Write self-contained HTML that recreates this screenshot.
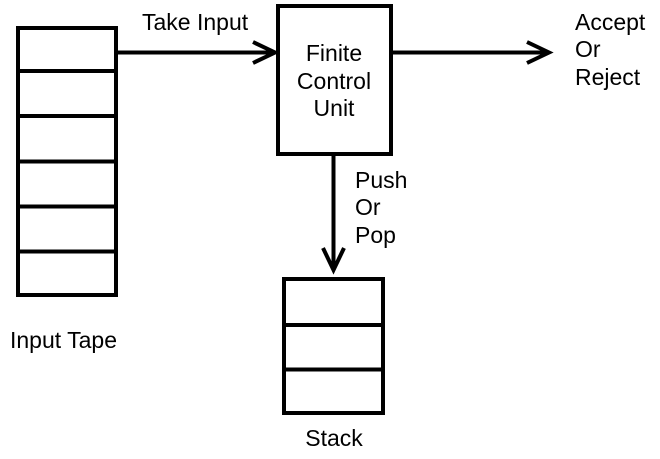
<!DOCTYPE html>
<html><head><style>body{margin:0;background:#fff}svg{display:block}</style></head><body>
<svg width="660" height="459" viewBox="0 0 660 459" xmlns="http://www.w3.org/2000/svg" font-family="Liberation Sans, Arial, sans-serif" font-size="23" fill="#000">
<g fill="none" stroke="#000" stroke-width="4">
<rect x="18" y="28" width="98" height="267"/>
<line x1="18" y1="71" x2="117" y2="71"/>
<line x1="18" y1="116" x2="117" y2="116"/>
<line x1="18" y1="161.5" x2="117" y2="161.5"/>
<line x1="18" y1="206.5" x2="117" y2="206.5"/>
<line x1="18" y1="251.5" x2="117" y2="251.5"/>
<rect x="278" y="6" width="113" height="148"/>
<rect x="284" y="279" width="99" height="134"/>
<line x1="284" y1="325" x2="383" y2="325"/>
<line x1="284" y1="369.5" x2="383" y2="369.5"/>
<line x1="117" y1="52.5" x2="275" y2="52.5"/>
<polyline points="253,42 275,52.5 253,63"/>
<line x1="391" y1="52.5" x2="549" y2="52.5"/>
<polyline points="527,42 549,52.5 527,63"/>
<line x1="333.5" y1="154" x2="333.5" y2="270"/>
<polyline points="323,248 333.5,270 344,248"/>
</g>
<text x="142" y="30">Take Input</text>
<text x="334" y="61" text-anchor="middle">Finite</text>
<text x="334" y="89" text-anchor="middle">Control</text>
<text x="334" y="116" text-anchor="middle">Unit</text>
<text x="575" y="30">Accept</text>
<text x="575" y="57">Or</text>
<text x="575" y="85">Reject</text>
<text x="355" y="188">Push</text>
<text x="355" y="215">Or</text>
<text x="355" y="243">Pop</text>
<text x="10" y="348">Input Tape</text>
<text x="334" y="446" text-anchor="middle">Stack</text>
</svg>
</body></html>
